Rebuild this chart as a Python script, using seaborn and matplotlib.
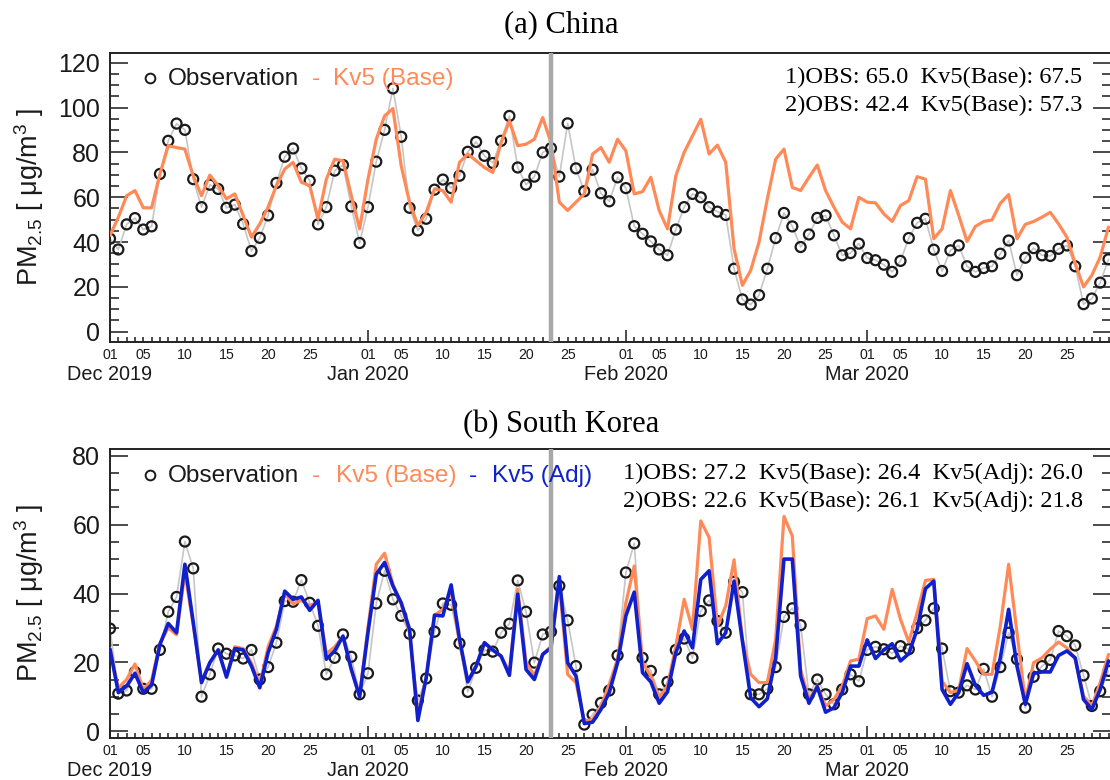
import numpy as np
import pandas as pd
import matplotlib
matplotlib.use("Agg")
import matplotlib.pyplot as plt
import matplotlib.dates as mdates
import matplotlib.ticker as mticker
from matplotlib.lines import Line2D
import seaborn as sns

# ---------------------------------------------------------------- data
dates = pd.date_range("2019-12-01", "2020-03-30", freq="D")
lockdown_day = pd.Timestamp("2020-01-23")
month_starts = pd.to_datetime(["2019-12-01", "2020-01-01", "2020-02-01", "2020-03-01"])
month_labels = ["Dec 2019", "Jan 2020", "Feb 2020", "Mar 2020"]
labeled_days = [5, 10, 15, 20, 25]

china_obs = [
    41.5, 36.7, 47.9, 50.7, 45.6, 47.0, 70.4, 85.2, 92.9, 90.1,
    68.1, 55.6, 65.6, 63.7, 55.3, 56.7, 48.1, 36.0, 41.9, 51.9,
    66.4, 78.1, 81.8, 72.9, 67.4, 47.9, 55.6, 71.9, 74.4, 55.9,
    39.6, 55.6, 75.9, 90.1, 108.6, 87.0, 55.3, 45.2, 50.4, 63.4,
    67.9, 64.1, 69.6, 80.3, 84.7, 78.5, 75.3, 85.2, 96.3, 73.3,
    65.6, 69.2, 80.0, 81.9, 69.2, 93.0, 72.9, 62.7, 72.3, 61.8,
    58.2, 68.9, 64.1, 47.1, 43.7, 40.3, 36.7, 34.1, 45.6, 55.6,
    61.5, 60.0, 55.6, 53.6, 52.1, 28.1, 14.4, 12.1, 16.3, 28.1,
    41.8, 53.0, 47.0, 37.8, 43.4, 50.8, 51.9, 43.0, 34.1, 35.1,
    39.3, 32.9, 31.9, 29.9, 26.7, 31.6, 41.8, 48.6, 50.4, 36.6,
    27.1, 36.3, 38.5, 29.2, 26.7, 28.4, 29.2, 34.8, 40.7, 25.2,
    33.0, 37.3, 34.1, 33.8, 37.0, 38.5, 29.2, 12.3, 14.8, 21.9, 32.3,
]
china_base = [
    43.0, 51.0, 60.7, 63.0, 55.3, 55.3, 70.4, 83.0, 82.2, 81.5,
    69.6, 60.7, 69.9, 65.2, 59.3, 61.5, 51.9, 42.2, 48.1, 55.6,
    65.2, 72.6, 75.6, 66.7, 65.2, 50.4, 68.1, 77.0, 76.3, 60.7,
    45.9, 68.0, 85.9, 96.3, 99.6, 74.0, 57.8, 47.4, 53.3, 63.7,
    63.0, 57.8, 75.6, 79.3, 76.3, 73.3, 71.1, 84.4, 94.1, 83.0,
    83.7, 85.9, 95.6, 84.4, 57.8, 54.1, 57.8, 61.5, 79.3, 82.2,
    75.6, 85.9, 80.7, 61.5, 62.5, 68.9, 54.1, 45.9, 69.6, 80.0,
    87.4, 94.8, 79.3, 83.3, 75.6, 37.0, 20.7, 27.4, 40.0, 59.3,
    77.0, 81.5, 64.4, 63.0, 68.9, 74.4, 63.0, 55.6, 48.9, 45.9,
    60.0, 57.8, 57.5, 52.6, 49.2, 56.3, 58.5, 69.2, 68.1, 41.5,
    45.9, 63.0, 51.9, 40.3, 47.0, 49.2, 49.9, 57.3, 61.2, 41.5,
    47.9, 49.2, 51.1, 53.3, 48.1, 42.2, 30.4, 20.0, 25.2, 33.3, 46.7,
]
korea_obs = [
    29.8, 10.9, 11.8, 17.2, 12.3, 12.3, 23.6, 34.7, 39.0, 55.1,
    47.3, 10.0, 16.5, 24.0, 22.5, 22.0, 21.1, 23.6, 15.0, 18.6,
    25.7, 37.8, 37.6, 43.9, 37.3, 30.6, 16.5, 21.3, 28.1, 21.6,
    10.7, 16.8, 37.1, 46.6, 38.3, 33.5, 28.3, 8.9, 15.3, 28.9,
    37.1, 36.7, 25.5, 11.4, 18.4, 23.6, 23.1, 28.6, 31.2, 43.8,
    34.7, 19.9, 28.1, 28.9, 42.2, 32.2, 18.9, 1.9, 4.8, 8.2,
    11.8, 22.0, 46.1, 54.6, 21.3, 17.5, 10.7, 14.3, 23.6, 26.9,
    21.3, 34.9, 38.0, 32.0, 28.6, 43.4, 40.4, 10.7, 10.7, 12.3,
    18.6, 33.2, 35.7, 30.8, 10.7, 15.0, 10.7, 7.8, 12.1, 16.5,
    14.5, 23.6, 24.5, 23.8, 22.6, 24.7, 23.8, 29.9, 32.2, 35.7,
    24.0, 11.6, 11.2, 13.3, 12.1, 18.1, 10.0, 18.6, 28.6, 20.9,
    6.8, 15.8, 18.9, 20.7, 29.1, 27.6, 24.9, 16.2, 7.3, 11.6, 17.5,
]
korea_base = [
    24.0, 12.5, 15.0, 19.5, 12.0, 14.8, 25.5, 30.0, 28.0, 46.0,
    31.0, 14.5, 20.0, 23.5, 16.0, 24.5, 24.0, 19.8, 13.5, 24.5,
    30.5, 40.0, 37.0, 38.0, 36.5, 37.5, 22.5, 24.5, 27.5, 18.0,
    10.5, 30.0, 48.5, 51.7, 42.7, 36.9, 28.6, 5.3, 15.5, 33.7,
    35.4, 40.7, 25.7, 14.5, 18.9, 25.7, 23.6, 21.8, 17.2, 41.2,
    19.9, 16.2, 22.3, 24.7, 42.7, 16.5, 14.1, 2.9, 3.4, 7.3,
    13.6, 20.9, 37.3, 48.0, 19.9, 16.0, 9.7, 13.1, 24.7, 38.3,
    29.6, 61.1, 56.3, 30.6, 36.4, 49.8, 26.7, 16.5, 14.1, 14.1,
    26.7, 62.4, 56.7, 17.9, 9.2, 13.1, 7.3, 9.2, 13.1, 20.4,
    20.9, 32.7, 33.5, 29.6, 41.2, 32.5, 25.9, 34.4, 43.8, 44.1,
    14.5, 11.2, 11.9, 24.0, 20.4, 16.5, 16.5, 30.6, 48.5, 28.6,
    8.7, 19.9, 21.3, 23.8, 25.9, 24.2, 20.9, 10.2, 7.3, 14.1, 22.3,
]
korea_adj = [
    23.8, 11.2, 13.1, 16.8, 11.2, 13.4, 25.2, 31.3, 28.6, 48.5,
    31.7, 14.1, 19.9, 23.6, 15.7, 24.0, 23.6, 18.9, 12.6, 22.8,
    29.6, 40.7, 38.3, 39.0, 35.1, 38.0, 20.9, 23.3, 27.6, 17.9,
    10.0, 28.6, 45.6, 49.0, 42.2, 37.3, 29.6, 3.1, 15.5, 33.7,
    33.5, 42.5, 26.9, 14.3, 18.9, 25.7, 23.6, 21.8, 16.2, 39.8,
    17.9, 15.0, 22.3, 24.2, 44.9, 19.9, 16.0, 2.2, 2.6, 6.3,
    11.2, 19.9, 33.5, 40.4, 17.0, 14.3, 8.1, 11.4, 22.8, 29.1,
    24.2, 44.1, 46.6, 25.4, 28.6, 43.6, 26.2, 9.7, 7.1, 9.4,
    21.3, 50.0, 50.0, 16.0, 8.1, 12.9, 5.5, 6.8, 11.2, 18.9,
    18.9, 26.5, 21.1, 23.6, 25.4, 20.4, 22.5, 29.6, 41.4, 43.6,
    12.1, 7.8, 11.2, 19.6, 13.3, 10.4, 11.3, 21.3, 35.4, 18.9,
    7.8, 16.8, 17.2, 17.2, 22.0, 23.3, 21.3, 9.2, 6.3, 12.1, 20.4,
]

series_names = ["Observation", "Kv5 (Base)", "Kv5 (Adj)"]
china_stats = ["1)OBS: 65.0  Kv5(Base): 67.5",
               "2)OBS: 42.4  Kv5(Base): 57.3"]
korea_stats = ["1)OBS: 27.2  Kv5(Base): 26.4  Kv5(Adj): 26.0",
               "2)OBS: 22.6  Kv5(Base): 26.1  Kv5(Adj): 21.8"]
panel_titles = ["(a) China", "(b) South Korea"]

# ---------------------------------------------------------------- style
ORANGE = "#FF8A58"
BLUE = "#1020CC"
OBS_LINE = "#c6c6c6"
INK = "#1a1a1a"
SANS = ["Liberation Sans", "DejaVu Sans"]
SERIF = ["Liberation Serif", "DejaVu Serif"]

sns.set_style("ticks")
plt.rcParams.update({
    "font.family": SANS,
    "mathtext.fontset": "custom",
    "mathtext.rm": "Liberation Sans",
    "mathtext.it": "Liberation Sans:italic",
    "mathtext.bf": "Liberation Sans:bold",
})

W, H = 1110, 780
fig = plt.figure(figsize=(W / 100, H / 100), dpi=100)
fig.patch.set_facecolor("white")


def rect(left, top, right, bottom):
    return [left / W, 1 - bottom / H, (right - left) / W, (bottom - top) / H]


def fxy(px, py):
    return px / W, 1 - py / H


ax_cn = fig.add_axes(rect(110, 53, 1111, 342))
ax_kr = fig.add_axes(rect(110, 449, 1111, 738))


def day_label(x, pos):
    d = mdates.num2date(x).day
    return f"{d:02d}" if d in labeled_days else ""


def draw_panel(ax, obs, models, ylim, ymax):
    df = pd.DataFrame({"date": dates, "obs": obs})
    sns.lineplot(data=df, x="date", y="obs", color=OBS_LINE, lw=1.2,
                 ax=ax, zorder=2)
    ax.scatter(dates, obs, s=52, facecolors="none", edgecolors=INK,
               linewidths=1.6, zorder=3)
    for vals, color, lw in models:
        sns.lineplot(x=dates, y=vals, color=color, lw=lw, ax=ax, zorder=4)
    ax.axvline(lockdown_day, color="#a8a8a8", lw=3.2, zorder=6)

    ax.set_xlim(dates[0], dates[0] + pd.Timedelta(hours=24 * 120.3))
    ax.set_ylim(*ylim)
    ax.set_xlabel("")
    ax.set_ylabel("")

    ax.xaxis.set_major_locator(mdates.MonthLocator())
    ax.xaxis.set_major_formatter(mdates.DateFormatter("%d"))
    ax.xaxis.set_minor_locator(mdates.DayLocator())
    ax.xaxis.set_minor_formatter(mticker.FuncFormatter(day_label))
    ax.yaxis.set_major_locator(mticker.FixedLocator(np.arange(0, ymax + 1, 20)))
    ax.yaxis.set_minor_locator(mticker.MultipleLocator(5))

    ax.tick_params(axis="x", which="both", direction="in", bottom=True,
                   top=False, labelsize=10.2, pad=4, colors=INK, width=1.1)
    ax.tick_params(axis="x", which="major", length=8.6)
    ax.tick_params(axis="x", which="minor", length=3.6)
    ax.tick_params(axis="y", which="both", direction="in", left=True,
                   right=True, labelsize=18, pad=7, colors=INK, width=1.1)
    ax.tick_params(axis="y", which="major", length=13)
    ax.tick_params(axis="y", which="minor", length=6.5)
    for sp in ax.spines.values():
        sp.set_visible(True)
        sp.set_linewidth(1.4)
        sp.set_color("#222222")

    for m, lab in zip(month_starts, month_labels):
        ax.annotate(lab, xy=(mdates.date2num(m), 0),
                    xycoords=ax.get_xaxis_transform(),
                    xytext=(0, -32), textcoords="offset pixels",
                    ha="center", va="center", fontsize=14.3, color=INK)


draw_panel(ax_cn, china_obs, [(china_base, ORANGE, 2.3)], (-4.6, 124.4), 120)
draw_panel(ax_kr, korea_obs, [(korea_base, ORANGE, 2.3), (korea_adj, BLUE, 2.6)],
           (-2, 82), 80)

# panel titles
fig.text(*fxy(561, 32), panel_titles[0], ha="center", va="baseline",
         fontsize=22, family=SERIF, color="black")
fig.text(*fxy(561, 432), panel_titles[1], ha="center", va="baseline",
         fontsize=22, family=SERIF, color="black")

# y-axis labels
ylab = r"PM$_{2.5}$ [ μg/m$^3$ ]"
for yc in (197, 593):
    fig.text(*fxy(29, yc), ylab, rotation=90, ha="center", va="center",
             fontsize=19.5, color=INK)

# legends drawn as text rows
for base_y, names, colors, xs in [
    (85, series_names[:2], [INK, ORANGE], [168, 333]),
    (482, series_names, [INK, ORANGE, BLUE], [168, 336, 492]),
]:
    fig.add_artist(Line2D([150 / W], [1 - (base_y - 7) / H], marker="o",
                          markersize=7, markerfacecolor="none",
                          markeredgecolor=INK, markeredgewidth=1.4,
                          linestyle="none", transform=fig.transFigure))
    for k, (name, col, x) in enumerate(zip(names, colors, xs)):
        fig.text(*fxy(x, base_y), name, ha="left", va="baseline",
                 fontsize=17.6, color=col)
    dash_x = [312, 469]
    for k in range(1, len(names)):
        fig.text(*fxy(dash_x[k - 1], base_y), "-", ha="left", va="baseline",
                 fontsize=17.6, color=colors[k])

# period statistics
for (yb, line) in zip((83, 111.5), china_stats):
    fig.text(*fxy(1082, yb), line, ha="right", va="baseline", fontsize=17.6,
             family=SERIF, color="black")
for (yb, line) in zip((479, 507), korea_stats):
    fig.text(*fxy(1083, yb), line, ha="right", va="baseline", fontsize=17.6,
             family=SERIF, color="black")

fig.savefig("out.png", dpi=100, facecolor="white")
